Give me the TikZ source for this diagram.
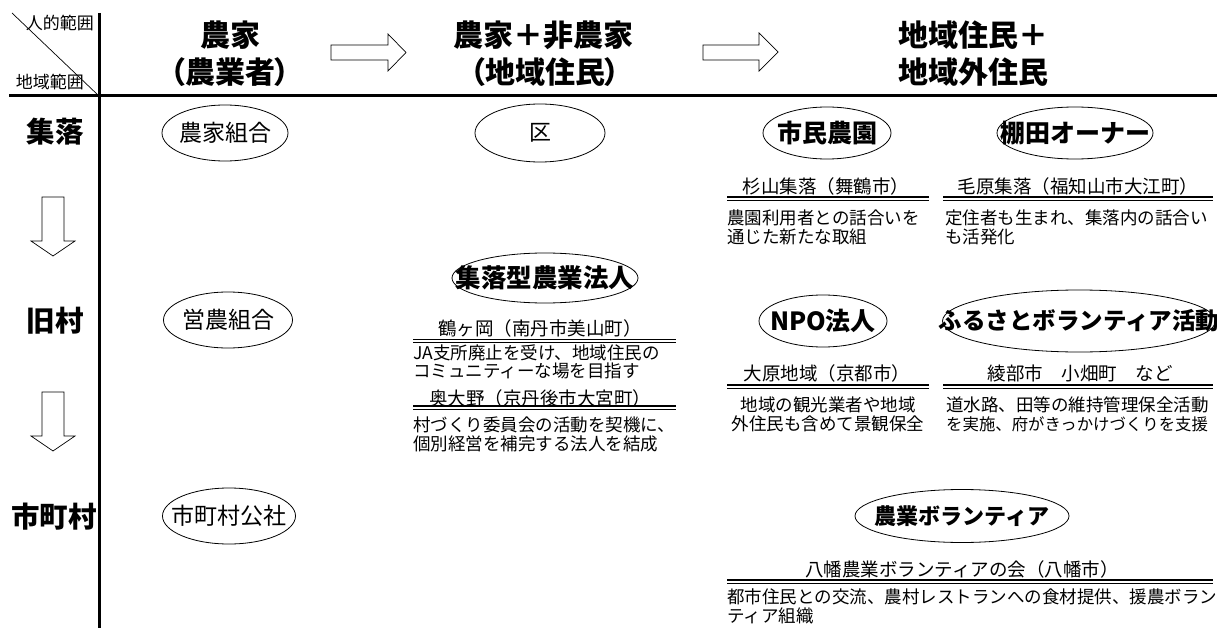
\documentclass[tikz,border=0pt]{standalone}
\usepackage{fontspec}
\setmainfont{Noto Sans CJK JP}
\newfontfamily\jpp[RawFeature=+palt]{Noto Sans CJK JP}
\usetikzlibrary{shapes.geometric}
\tikzset{
  oval/.style={ellipse, draw, line width=0.8pt, inner sep=0pt},
  lblb/.style={font=\bfseries\fontsize{25}{29}\selectfont, inner sep=0pt},
  lblr/.style={font=\fontsize{23}{27}\selectfont, inner sep=0pt},
  hdr/.style={font=\bfseries\fontsize{30}{35}\selectfont, inner sep=0pt},
  hdrp/.style={font=\jpp\bfseries\fontsize{30}{35}\selectfont, inner sep=0pt},
  rowlbl/.style={font=\bfseries\fontsize{28.5}{32}\selectfont, inner sep=0pt},
  corner/.style={font=\fontsize{17}{20}\selectfont, inner sep=0pt},
  loc/.style={font=\fontsize{18.5}{22}\selectfont, inner sep=0pt},
  desc/.style={font=\fontsize{17.5}{19}\selectfont, inner sep=0pt, align=left, anchor=west},
  descc/.style={font=\fontsize{17.5}{19}\selectfont, inner sep=0pt, align=center},
  dbl/.style={line width=1.1pt},
  blk/.style={line width=0.7pt, line join=miter},
  axis/.style={line width=3pt},
}
\begin{document}
\begin{tikzpicture}[x=1pt,y=-1pt]
\useasboundingbox (0,0) rectangle (1217,628);

% axes
\draw[axis] (99,13) -- (99,628);
\draw[axis] (9,96) -- (1217,96);
\draw[line width=0.7pt] (12,13) -- (99,96);

% corner labels
\node[corner, anchor=east] (hum) at (94,23) {人的範囲};
\node[corner] (reg) at (50,82) {地域範囲};

% headers
\node[hdr] (h1a) at (230,35) {農家};
\node[hdrp] (h1b) at (230,72) {（農業者）};
\node[hdr] (h2a) at (543,35) {農家＋非農家};
\node[hdrp] (h2b) at (545,72) {（地域住民）};
\node[hdr, anchor=west] (h3a) at (898,35) {地域住民＋};
\node[hdr, anchor=west] (h3b) at (898,72) {地域外住民};

% right block arrows
\draw[blk] (331,45) -- (388,45) -- (388,34) -- (406,52.5) -- (388,71) -- (388,60) -- (331,60) -- cycle;
\draw[blk] (703,45) -- (759,45) -- (759,33) -- (778,52) -- (759,71) -- (759,60) -- (703,60) -- cycle;

% row labels
\node[rowlbl] (r1) at (55,132) {集落};
\node[rowlbl] (r2) at (55,321) {旧村};
\node[rowlbl] (r3) at (54,517) {市町村};

% down block arrows
\draw[blk] (42,197) -- (64,197) -- (64,241) -- (75,241) -- (53,256) -- (31,241) -- (42,241) -- cycle;
\draw[blk] (42,392) -- (64,392) -- (64,436) -- (75,436) -- (53,451) -- (31,436) -- (42,436) -- cycle;

% column 1
\node[oval, minimum width=126, minimum height=56, label={[lblr]center:農家組合}] (c1a) at (225,133) {};
\node[oval, minimum width=129, minimum height=56, label={[lblr]center:営農組合}] (c1b) at (228,320) {};
\node[oval, minimum width=133, minimum height=56, label={[lblr]center:市町村公社}] (c1c) at (229,516) {};

% column 2
\node[oval, minimum width=130, minimum height=58, label={[lblr, font=\fontsize{22}{26}\selectfont]center:区}] (c2a) at (540,133) {};
\node[oval, minimum width=186, minimum height=50, label={[lblb, font=\bfseries\fontsize{25.5}{29}\selectfont]center:集落型農業法人}] (c2b) at (545,278) {};
\node[loc] (l2a) at (540,328) {鶴ヶ岡（南丹市美山町）};
\draw[dbl] (413,339.5) -- (676,339.5);
\draw[dbl] (413,342.8) -- (676,342.8);
\node[desc, font=\fontsize{17.5}{18}\selectfont] (d2a) at (413,362) {JA支所廃止を受け、地域住民の\\コミュニティーな場を目指す};
\node[loc] (l2b) at (540,398) {奥大野（京丹後市大宮町）};
\draw[dbl] (413,406) -- (676,406);
\draw[dbl] (413,409.3) -- (676,409.3);
\node[desc] (d2b) at (413,434) {村づくり委員会の活動を契機に、\\個別経営を補完する法人を結成};

% column 3, row 1
\node[oval, minimum width=128, minimum height=52, label={[lblb]center:市民農園}] (c3a) at (827,133) {};
\node[oval, minimum width=156, minimum height=52, label={[lblb]center:棚田オーナー}] (c3b) at (1075,133) {};
\node[loc] (l3a) at (826,186) {杉山集落（舞鶴市）};
\node[loc] (l3b) at (1078,186) {毛原集落（福知山市大江町）};
\draw[dbl] (727,197) -- (929,197);
\draw[dbl] (727,200.3) -- (929,200.3);
\draw[dbl] (943,197) -- (1213,197);
\draw[dbl] (943,200.3) -- (1213,200.3);
\node[desc] (d3a) at (727,227) {農園利用者との話合いを\\通じた新たな取組};
\node[desc] (d3b) at (945,227) {定住者も生まれ、集落内の話合い\\も活発化};

% column 3, row 2
\node[oval, minimum width=128, minimum height=52, label={[lblb]center:NPO法人}] (c3c) at (823,321) {};
\node[oval, minimum width=273, minimum height=62, label={[lblb, font=\bfseries\fontsize{23.5}{28}\selectfont]center:ふるさとボランティア活動}] (c3d) at (1079,321) {};
\node[loc] (l3c) at (827,373) {大原地域（京都市）};
\node[loc] (l3d) at (1080,373) {綾部市　小畑町　など};
\draw[dbl] (727,385) -- (929,385);
\draw[dbl] (727,388.3) -- (929,388.3);
\draw[dbl] (943,385) -- (1213,385);
\draw[dbl] (943,388.3) -- (1213,388.3);
\node[descc] (d3c) at (828,414) {地域の観光業者や地域\\外住民も含めて景観保全};
\node[desc] (d3d) at (946,414) {道水路、田等の維持管理保全活動\\{\fontsize{16.4}{19}\selectfont を実施、府がきっかけづくりを支援}};

% column 3, row 3
\node[oval, minimum width=214, minimum height=53, label={[lblb, font=\bfseries\fontsize{22}{26}\selectfont]center:農業ボランティア}] (c3e) at (962,516) {};
\node[loc] (l3e) at (962,569) {八幡農業ボランティアの会（八幡市）};
\draw[dbl] (727,580) -- (1213,580);
\draw[dbl] (727,583.3) -- (1213,583.3);
\node[desc] (d3e) at (727,606) {都市住民との交流、農村レストランへの食材提供、援農ボラン\\ティア組織};
\end{tikzpicture}
\end{document}
